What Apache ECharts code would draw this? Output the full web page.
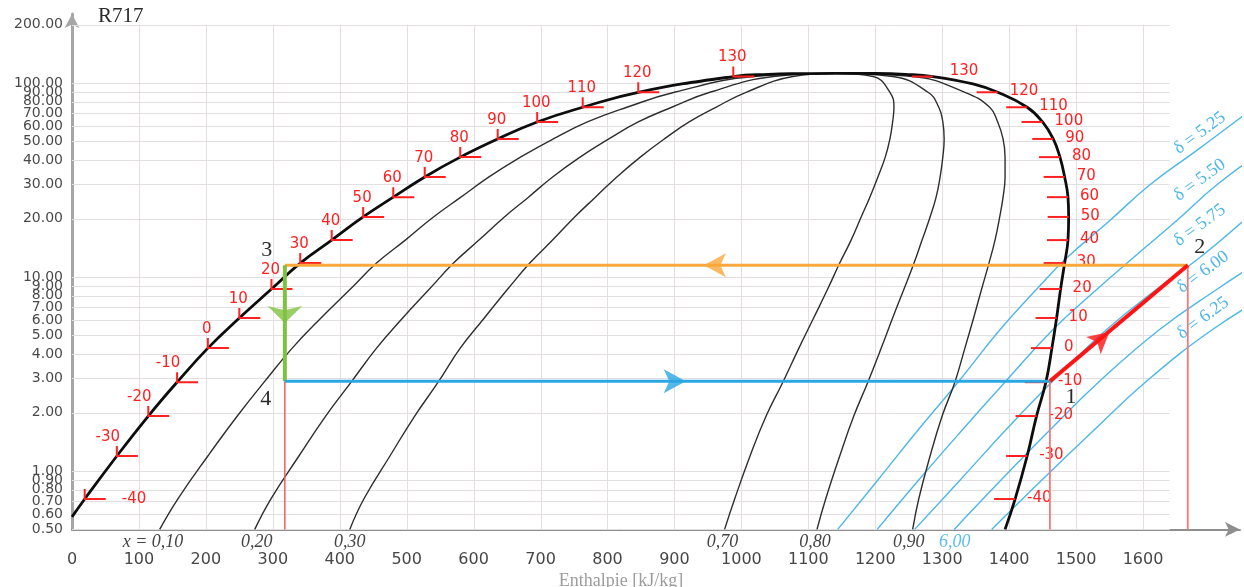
<!DOCTYPE html>
<html><head><meta charset="utf-8">
<script src="https://cdn.jsdelivr.net/npm/echarts@6/dist/echarts.min.js"></script>
<style>html,body{margin:0;padding:0;background:#fff}#c{width:1244px;height:587px}</style>
</head><body><div id="c"></div>
<script>
// ---------- data ----------
const yTicks = [0.5,0.6,0.7,0.8,0.9,1,2,3,4,5,6,7,8,9,10,20,30,40,50,60,70,80,90,100,200];
const xGrid = [100,200,300,400,500,600,700,800,900,1000,1100,1200,1300,1400,1500,1600];

const temps   = [-40,-30,-20,-10,0,10,20,30,40,50,60,70,80,90,100,110,120,130];
const tickP   = [0.717,1.195,1.92,2.87,4.3,6.15,8.67,11.8,15.5,20.4,25.8,32.8,41.5,51.5,63,75,89.6,108];
const tickLiqH= [19,67,114,157,203,250,298,341,388,435,480,527,580,636,695,763,846,988];
const tickVapH= [1409,1427,1441,1455,1464,1471,1477,1483,1488,1489,1488,1483,1476,1466,1450,1427,1383,1286];

const liquidCurve = [[0,0.58],[19,0.717],[67,1.195],[114,1.92],[157,2.87],[203,4.3],[250,6.15],[298,8.67],[341,11.8],[388,15.5],[435,20.4],[480,25.8],[527,32.8],[580,41.5],[636,51.5],[695,63],[763,75],[846,89.6],[988,108],[1040,110.8],[1090,111.8],[1140,112.2]];
const vaporCurve = [[1140,112.2],[1200,112],[1245,110.8],[1286,108],[1346,98.9],[1383,89.6],[1427,75],[1450,63],[1466,51.5],[1476,41.5],[1483,32.8],[1488,25.8],[1489,20.4],[1488,15.5],[1483,11.8],[1477,8.67],[1471,6.15],[1464,4.3],[1455,2.87],[1441,1.92],[1427,1.195],[1409,0.717],[1394,0.5]];

const qualityP = [0.5,0.717,1.195,1.92,2.87,4.3,6.15,8.67,11.8,15.5,20.4,25.8,32.8,41.5,51.5,63,75,89.6,108,112.2];
const q010 = [131,158,203,247,287,329,372,416,455,498,540,581,623,670,719,770,829,900,1018,1140];
const q020 = [273,297,339,379,417,455,494,534,570,608,646,682,718,759,802,846,896,953,1048,1140];
const q030 = [415,436,475,512,547,580,616,651,684,718,751,782,814,849,885,922,962,1007,1077,1140];
const q070 = [975,990,1013,1037,1062,1086,1108,1129,1147,1164,1179,1192,1204,1215,1222,1226,1228,1222,1197,1140];
const q080 = [1113,1126,1147,1168,1189,1209,1226,1243,1258,1270,1282,1291,1297,1301,1303,1301,1295,1279,1226,1140];
const q090 = [1256,1265,1282,1300,1319,1334,1347,1359,1370,1379,1386,1391,1394,1394,1391,1383,1371,1334,1256,1140];
const qLabels = ['x = 0,10','0,20','0,30','0,70','0,80','0,90','6,00'];
const qLabelH = [121,276,415,972,1110,1250,1319];

const s525 = [[1144,0.5],[1204,0.899],[1264,1.627],[1324,2.876],[1386,5.33],[1440,8.57],[1486,12.53],[1548,19.2],[1610,29.8],[1681,45.1],[1751,68.4]];
const s550 = [[1203,0.5],[1265,0.899],[1330,1.627],[1394,2.876],[1465,5.33],[1530,8.57],[1585,12.53],[1648,19.2],[1710,29.8],[1781,45.1]];
const s575 = [[1259,0.5],[1327,0.899],[1395,1.627],[1464,2.876],[1545,5.33],[1619,8.57],[1684,12.53],[1748,19.2]];
const s600 = [[1318,0.5],[1388,0.899],[1461,1.627],[1534,2.876],[1624,5.33],[1709,8.57],[1782,12.53]];
const s625 = [[1374,0.5],[1449,0.899],[1527,1.627],[1604,2.876],[1703,5.33],[1799,8.57]];
const isoLabels = ['δ = 5.25','δ = 5.50','δ = 5.75','δ = 6.00','δ = 6.25'];
const isoLabelH = [1685,1685,1685,1690,1690];
const isoLabelP = [55.2,31.6,18.5,10.6,6.15];

const cycleNames = ['1','2','3','4'];
const cycleH = [1461,1667,318,318];
const cycleP = [2.9,11.5,11.5,2.9];
const arrowH = [944,917,318,1550];
const arrowP = [11.5,2.9,5.79,5.2];

// ---------- chart ----------
const zip = (hs, ps) => hs.map((h,i)=>[h, ps[i]]);
const chart = echarts.init(document.getElementById('c'), null, {renderer:'canvas'});
const G = {xAxisIndex:1, yAxisIndex:1};
const curve = (data, color, width, z) => Object.assign({type:'line', data, symbol:'none', showSymbol:false, smooth:0.45, lineStyle:{color, width}, z, silent:true}, G);
const seg = (data, color, width, z) => Object.assign({type:'line', data, symbol:'none', showSymbol:false, lineStyle:{color, width}, z, silent:true}, G);
const txt = (text, x, y, font, fill, align, valign, rot) => ({type:'text', x, y, rotation: rot||0,
  style:{text, x:0, y:0, font, fill, align, verticalAlign:valign, textAlign:align, textVerticalAlign:valign}});

const RED = '#ff2020';
const tickFont = '15px "DejaVu Sans"';

const series = [];
// horizontal grid + y labels
series.push(Object.assign({type:'custom', silent:true, clip:false, z:1, data: yTicks.map(v=>[0,v]),
  renderItem(params, api){
    const v = api.value(1); const a = api.coord([0,v]); const b = api.coord([1640,v]);
    const y = Math.round(a[1]) + 0.5;
    return {type:'group', children:[
      {type:'line', shape:{x1:a[0], y1:y, x2:b[0], y2:y}, style:{stroke:'#e2dee2', lineWidth:1}},
      txt(v.toFixed(2), a[0]-9, a[1], '14px "DejaVu Sans"', '#4a4a4a', 'right', 'middle')
    ]};
  }}, G));
// vertical grid
series.push(Object.assign({type:'custom', silent:true, clip:false, z:1, data: xGrid.map(v=>[v,0.5]),
  renderItem(params, api){
    const v = api.value(0); const a = api.coord([v,0.5]); const b = api.coord([v,200]);
    const x = Math.round(a[0]) + 0.5;
    return {type:'line', shape:{x1:x, y1:a[1], x2:x, y2:b[1]}, style:{stroke:'#e2dee2', lineWidth:1}};
  }}, G));
// isentropes
[s525,s550,s575,s600,s625].forEach(s => series.push(curve(s, '#4db7e7', 1.4, 2)));
// quality lines
[q010,q020,q030,q070,q080,q090].forEach(q => series.push(curve(zip(q, qualityP), '#2e2e2e', 1.4, 3)));
// saturation curves
series.push(curve(liquidCurve, '#0d0d0d', 2.8, 4));
series.push(curve(vaporCurve, '#0d0d0d', 2.8, 4));
// temperature ticks on liquid
series.push(Object.assign({type:'custom', silent:true, clip:false, z:5, data: temps.map((t,i)=>[tickLiqH[i], tickP[i], t]),
  renderItem(params, api){
    const c = api.coord([api.value(0), api.value(1)]); const t = api.value(2);
    const lab = t === -40 ? txt(String(t), c[0]+37, c[1], tickFont, RED, 'left', 'middle')
                          : txt(String(t), c[0] + (t<0 ? -9 : -1), c[1]-19, tickFont, RED, 'center', 'middle');
    return {type:'group', children:[
      {type:'polyline', shape:{points:[[c[0],c[1]-10],[c[0],c[1]],[c[0]+21,c[1]]]}, style:{stroke:RED, lineWidth:2, fill:null}},
      lab]};
  }}, G));
// temperature ticks on vapour
series.push(Object.assign({type:'custom', silent:true, clip:false, z:5, data: temps.map((t,i)=>[tickVapH[i], tickP[i], t]),
  renderItem(params, api){
    const c = api.coord([api.value(0), api.value(1)]); const t = api.value(2);
    return {type:'group', children:[
      {type:'line', shape:{x1:c[0]-21, y1:c[1], x2:c[0], y2:c[1]}, style:{stroke:RED, lineWidth:2}},
      txt(String(t), c[0] + (t===130 ? 17 : 12), c[1] + (t===130 ? -5 : -1), tickFont, RED, 'left', 'middle')]};
  }}, G));
// thin red reference verticals
series.push(seg([[cycleH[3],cycleP[3]],[cycleH[3],0.5]], '#f45a5a', 1.5, 5));
series.push(seg([[cycleH[0],cycleP[0]],[cycleH[0],0.5]], '#f47a7a', 1.8, 5));
series.push(seg([[cycleH[1],cycleP[1]],[cycleH[1],0.5]], '#f47a7a', 1.8, 5));
// cycle
series.push(seg([[cycleH[1],cycleP[1]],[cycleH[2],cycleP[2]]], '#f9a93c', 3, 6));
series.push(seg([[cycleH[2],cycleP[2]],[cycleH[3],cycleP[3]]], '#7fc241', 4, 6));
series.push(seg([[cycleH[3],cycleP[3]],[cycleH[0],cycleP[0]]], '#2aa6e2', 3, 6));
series.push(seg([[cycleH[0],cycleP[0]],[cycleH[1],cycleP[1]]], '#ff1414', 4, 6));
// arrows
const arrowStyle = [
  {rot:90, color:'#f9a93c', size:[18,22]},
  {rot:-90, color:'#2aa6e2', size:[18,22]},
  {rot:180, color:'#7fc241', size:[26,17]},
  {rot:-50, color:'#ff1414', size:[17,21]}];
series.push(Object.assign({type:'scatter', symbol:'arrow', z:7, silent:true,
  data: arrowH.map((h,i)=>({value:[h, arrowP[i]], symbolRotate:arrowStyle[i].rot, symbolSize:arrowStyle[i].size, itemStyle:{color:arrowStyle[i].color}}))}, G));
// texts: cycle points, quality labels, isentrope labels
const ptOff = [[21,16],[12,-18],[-18,-15],[-19,18]];
series.push(Object.assign({type:'custom', silent:true, clip:false, z:8, data: cycleH.map((h,i)=>[h, cycleP[i], i]),
  renderItem(params, api){
    const c = api.coord([api.value(0), api.value(1)]); const i = api.value(2);
    return txt(cycleNames[i], c[0]+ptOff[i][0], c[1]+ptOff[i][1], '22px "Liberation Serif"', '#2a2a2a', 'center', 'middle');
  }}, G));
series.push(Object.assign({type:'custom', silent:true, clip:false, z:8, data: qLabelH.map((h,i)=>[h, 0.5, i]),
  renderItem(params, api){
    const c = api.coord([api.value(0), api.value(1)]); const i = api.value(2);
    return txt(qLabels[i], c[0], c[1]+13, 'italic 18px "Liberation Serif"', i===6 ? '#5cbde9' : '#444', 'center', 'middle');
  }}, G));
series.push(Object.assign({type:'custom', silent:true, clip:false, z:8, data: isoLabelH.map((h,i)=>[h, isoLabelP[i], i]),
  renderItem(params, api){
    const c = api.coord([api.value(0), api.value(1)]); const i = api.value(2);
    return txt(isoLabels[i], c[0], c[1], '18px "Liberation Serif"', '#4db7e7', 'center', 'middle', 36*Math.PI/180);
  }}, G));

chart.setOption({
  animation:false,
  backgroundColor:'#ffffff',
  title:{text:'R717', left:93, top:1, textStyle:{fontFamily:'Liberation Serif', fontSize:21, fontWeight:'normal', color:'#2a2a2a'}},
  grid:[
    {left:72, right:74.2, top:24.6, bottom:57.6, outerBoundsMode:'none', containLabel:false},
    {left:72, right:4, top:14, bottom:57.6, outerBoundsMode:'none', containLabel:false}
  ],
  xAxis:[
    {gridIndex:0, type:'value', min:0, max:1640, interval:100,
     axisLine:{show:false}, axisTick:{show:false}, splitLine:{show:false},
     axisLabel:{margin:22, fontFamily:'DejaVu Sans', fontSize:16, color:'#474747', formatter:v => (v<=1600 && v%100===0) ? String(v) : ''},
     name:'Enthalpie [kJ/kg]', nameLocation:'middle', nameGap:40,
     nameTextStyle:{fontFamily:'Liberation Serif', fontSize:18, color:'#9c9c9c'}},
    {gridIndex:1, type:'value', min:0, max:1745,
     axisLine:{show:true, symbol:['none','arrow'], symbolSize:[11,15], lineStyle:{color:'#8e8e8e', width:2}},
     axisTick:{show:false}, axisLabel:{show:false}, splitLine:{show:false}}
  ],
  yAxis:[
    {gridIndex:0, type:'log', logBase:10, min:0.5, max:200, show:false},
    {gridIndex:1, type:'log', logBase:10, min:0.5, max:226.9,
     axisLine:{show:true, symbol:['none','arrow'], symbolSize:[11,14], lineStyle:{color:'#a6a6a6', width:3}},
     axisTick:{show:false}, axisLabel:{show:false}, splitLine:{show:false}}
  ],
  series
});
</script></body></html>
